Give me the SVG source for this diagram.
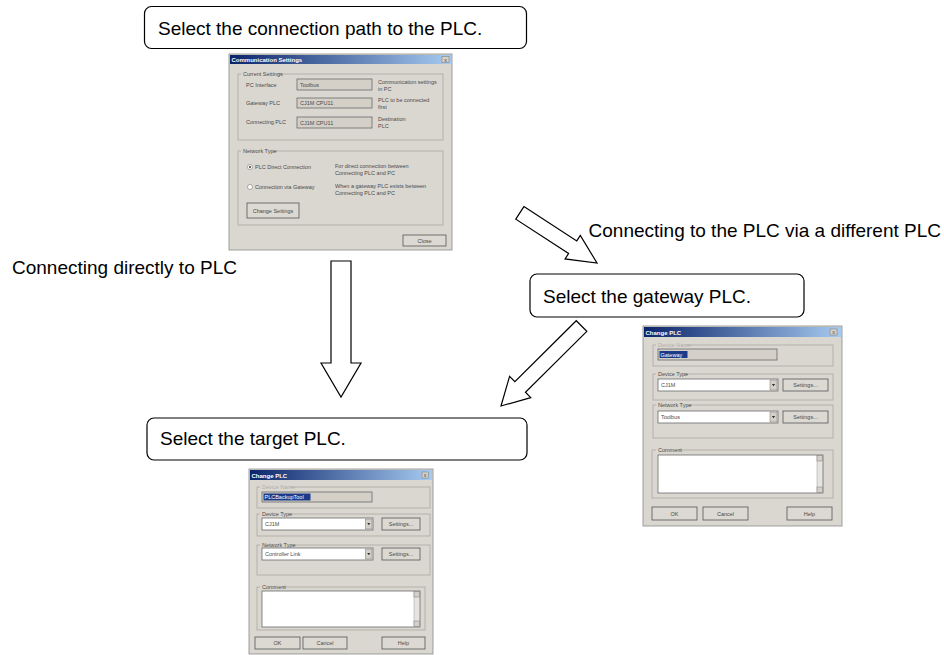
<svg xmlns="http://www.w3.org/2000/svg" width="944" height="655" viewBox="0 0 944 655">
<defs>
<linearGradient id="tb" x1="0" x2="1" y1="0" y2="0">
<stop offset="0" stop-color="#0a246a"/>
<stop offset="1" stop-color="#a6caf0"/>
</linearGradient>
</defs>
<style>
.box{fill:#fff;stroke:#000;stroke-width:1.2}
.lbl{font-family:"Liberation Sans",Arial,sans-serif;font-size:19px;fill:#000}
.arrow{fill:#fff;stroke:#000;stroke-width:1.2;stroke-linejoin:miter}
.dlg{fill:#dad7d1;stroke:#8a8a8a;stroke-width:0.8}
.tt{font-family:"Liberation Sans",Arial,sans-serif;font-size:6px;font-weight:bold;fill:#fff}
.t{font-family:"Liberation Sans",Arial,sans-serif;font-size:5.5px;fill:#4a4a4a}
.tc{font-family:"Liberation Sans",Arial,sans-serif;font-size:5.5px;fill:#4a4a4a;text-anchor:middle}
.tg{font-family:"Liberation Sans",Arial,sans-serif;font-size:5.5px;fill:#b0aea8}
.tw{font-family:"Liberation Sans",Arial,sans-serif;font-size:5.5px;fill:#fff}
.grp{fill:none;stroke:#aaa7a0;stroke-width:0.8}
.lbg{fill:#dad7d1}
.fld{fill:#d4d0c8;stroke:#6a6a6a;stroke-width:0.8}
.wf{fill:#fff;stroke:#6a6a6a;stroke-width:0.8}
.btn{fill:#dcd9d3;stroke:#555;stroke-width:0.8}
.sb{fill:#e6e4e0;stroke:#9a9a9a;stroke-width:0.5}
.cb{fill:#d4d0c8;stroke:#777;stroke-width:0.5}
.hl{fill:#1c3a8a}
</style>

<!-- connectors -->
<g id="connectors">
<polygon class="arrow" points="331,261 351,261 351,363 361,363 341,397 321,363 331,363"/>
<polygon class="arrow" transform="translate(597,263) rotate(33)" points="-92,-7.5 -29,-7.5 -29,-14 0,0 -29,14 -29,7.5 -92,7.5"/>
<polygon class="arrow" transform="translate(501,406) rotate(135.2)" points="-113.5,-7.5 -27,-7.5 -27,-15 0,0 -27,15 -27,7.5 -113.5,7.5"/>
</g>

<!-- labels -->
<g id="label-direct"><text class="lbl" x="12" y="274">Connecting directly to PLC</text></g>
<g id="label-gateway"><text class="lbl" x="941" y="237" text-anchor="end">Connecting to the PLC via a different PLC</text></g>

<!-- callouts -->
<g id="callout-path">
<rect class="box" x="144.5" y="6.5" width="382" height="42" rx="7"/>
<text class="lbl" x="158" y="35">Select the connection path to the PLC.</text>
</g>
<g id="callout-gateway">
<rect class="box" x="530" y="274" width="274" height="43" rx="7"/>
<text class="lbl" x="543" y="303">Select the gateway PLC.</text>
</g>
<g id="callout-target">
<rect class="box" x="147" y="418" width="380" height="42" rx="7"/>
<text class="lbl" x="160" y="445">Select the target PLC.</text>
</g>

<!-- Communication Settings dialog -->
<g id="dlg-comm">
<rect class="dlg" x="229" y="54" width="223" height="196"/>
<rect x="230" y="55" width="221" height="9" fill="url(#tb)"/>
<text class="tt" x="231.5" y="62">Communication Settings</text>
<rect class="cb" x="442" y="56.5" width="7" height="6"/>
<text class="tc" x="445.5" y="61.5">x</text>
<rect class="grp" x="238" y="74" width="205" height="66"/>
<rect class="lbg" x="241" y="71" width="36" height="6"/>
<text class="t" x="243" y="76">Current Settings</text>
<text class="t" x="246" y="87">PC Interface</text>
<rect class="fld" x="297" y="79" width="75" height="11"/>
<text class="t" x="300" y="86.5">Toolbus</text>
<text class="t" x="378" y="84">Communication settings</text>
<text class="t" x="378" y="91">in PC</text>
<text class="t" x="246" y="105">Gateway PLC</text>
<rect class="fld" x="297" y="98" width="75" height="10"/>
<text class="t" x="300" y="105">CJ1M CPU11</text>
<text class="t" x="378" y="102">PLC to be connected</text>
<text class="t" x="378" y="109">first</text>
<text class="t" x="246" y="124">Connecting PLC</text>
<rect class="fld" x="297" y="117" width="75" height="11"/>
<text class="t" x="300" y="124.5">CJ1M CPU11</text>
<text class="t" x="378" y="121">Destination</text>
<text class="t" x="378" y="128">PLC</text>
<rect class="grp" x="238" y="151" width="205" height="74"/>
<rect class="lbg" x="241" y="148" width="31" height="6"/>
<text class="t" x="243" y="153">Network Type</text>
<circle cx="250" cy="167" r="2.5" fill="#fff" stroke="#777" stroke-width="0.6"/>
<circle cx="250" cy="167" r="1" fill="#333"/>
<text class="t" x="255" y="169">PLC Direct Connection</text>
<text class="t" x="335" y="168">For direct connection between</text>
<text class="t" x="335" y="175">Connecting PLC and PC</text>
<circle cx="250" cy="187" r="2.5" fill="#fff" stroke="#777" stroke-width="0.6"/>
<text class="t" x="255" y="189">Connection via Gateway</text>
<text class="t" x="335" y="188">When a gateway PLC exists between</text>
<text class="t" x="335" y="195">Connecting PLC and PC</text>
<rect class="btn" x="247" y="203" width="52" height="15"/>
<text class="tc" x="273" y="212.5">Change Settings</text>
<rect class="btn" x="403" y="235" width="43" height="11"/>
<text class="tc" x="424.5" y="242.5">Close</text>
</g>

<!-- Gateway Change PLC dialog -->
<g id="dlg-gateway">
<rect class="dlg" x="643" y="326" width="199" height="200"/>
<rect x="644" y="327" width="197" height="10" fill="url(#tb)"/>
<text class="tt" x="645.5" y="334.5">Change PLC</text>
<rect class="cb" x="830" y="329" width="7" height="6"/>
<text class="tc" x="833.5" y="334">x</text>
<rect class="grp" x="653" y="345" width="180" height="21"/>
<rect class="lbg" x="656" y="342" width="30" height="6"/>
<text class="tg" x="658" y="347">Device Name</text>
<rect class="fld" x="658" y="349" width="119" height="11"/>
<rect class="hl" x="659.5" y="351" width="28" height="7"/>
<text class="tw" x="660.5" y="356.5">Gateway</text>
<rect class="grp" x="653" y="374" width="180" height="26"/>
<rect class="lbg" x="656" y="371" width="28" height="6"/>
<text class="t" x="658" y="376">Device Type</text>
<rect class="wf" x="658" y="379" width="120" height="12"/>
<text class="t" x="661" y="387">CJ1M</text>
<rect class="cb" x="770" y="380" width="7" height="10"/>
<polygon points="771.8,384 775.2,384 773.5,386.2" fill="#333"/>
<rect class="btn" x="783" y="379" width="45" height="12"/>
<text class="tc" x="805.5" y="387">Settings...</text>
<rect class="grp" x="653" y="405" width="180" height="33"/>
<rect class="lbg" x="656" y="402" width="31" height="6"/>
<text class="t" x="658" y="407">Network Type</text>
<rect class="wf" x="658" y="411" width="120" height="12"/>
<text class="t" x="661" y="419">Toolbus</text>
<rect class="cb" x="770" y="412" width="7" height="10"/>
<polygon points="771.8,416 775.2,416 773.5,418.2" fill="#333"/>
<rect class="btn" x="783" y="411" width="45" height="12"/>
<text class="tc" x="805.5" y="419">Settings...</text>
<rect class="grp" x="652" y="450" width="181" height="48"/>
<rect class="lbg" x="656" y="447" width="22" height="6"/>
<text class="t" x="658" y="452">Comment</text>
<rect class="wf" x="658" y="455" width="165" height="38"/>
<rect class="sb" x="817" y="455.5" width="5.5" height="37"/>
<rect class="cb" x="817" y="455.5" width="5.5" height="5.5"/>
<rect class="cb" x="817" y="487" width="5.5" height="5.5"/>
<rect class="btn" x="652" y="507" width="45" height="13"/>
<text class="tc" x="674.5" y="515.5">OK</text>
<rect class="btn" x="703" y="507" width="45" height="13"/>
<text class="tc" x="725.5" y="515.5">Cancel</text>
<rect class="btn" x="787" y="507" width="45" height="13"/>
<text class="tc" x="809.5" y="515.5">Help</text>
</g>

<!-- Target Change PLC dialog -->
<g id="dlg-target">
<rect class="dlg" x="249" y="469" width="184" height="185"/>
<rect x="250" y="470" width="182" height="10" fill="url(#tb)"/>
<text class="tt" x="251.5" y="477.5">Change PLC</text>
<rect class="cb" x="422" y="472" width="6.5" height="6"/>
<text class="tc" x="425.2" y="477">x</text>
<rect class="grp" x="257" y="487" width="173" height="21"/>
<rect class="lbg" x="260" y="484" width="30" height="6"/>
<text class="tg" x="262" y="489">Device Name</text>
<rect class="fld" x="262" y="492" width="110" height="10"/>
<rect class="hl" x="263.5" y="493.5" width="47" height="7"/>
<text class="tw" x="264.5" y="499">PLCBackupTool</text>
<rect class="grp" x="257" y="514" width="173" height="22"/>
<rect class="lbg" x="260" y="511" width="28" height="6"/>
<text class="t" x="262" y="516">Device Type</text>
<rect class="wf" x="262" y="518" width="111" height="12"/>
<text class="t" x="265" y="526">CJ1M</text>
<rect class="cb" x="365.5" y="519" width="6.5" height="10"/>
<polygon points="367.2,523 370.4,523 368.8,525.2" fill="#333"/>
<rect class="btn" x="382" y="518" width="38" height="12"/>
<text class="tc" x="401" y="526">Settings...</text>
<rect class="grp" x="257" y="545" width="173" height="30"/>
<rect class="lbg" x="260" y="542" width="31" height="6"/>
<text class="t" x="262" y="547">Network Type</text>
<rect class="wf" x="262" y="548" width="111" height="12"/>
<text class="t" x="265" y="556">Controller Link</text>
<rect class="cb" x="365.5" y="549" width="6.5" height="10"/>
<polygon points="367.2,553 370.4,553 368.8,555.2" fill="#333"/>
<rect class="btn" x="382" y="548" width="38" height="12"/>
<text class="tc" x="401" y="556">Settings...</text>
<rect class="grp" x="257" y="587" width="168" height="43"/>
<rect class="lbg" x="260" y="584" width="22" height="6"/>
<text class="t" x="262" y="589">Comment</text>
<rect class="wf" x="262" y="591" width="158" height="36"/>
<rect class="sb" x="414" y="591.5" width="5.5" height="35"/>
<rect class="cb" x="414" y="591.5" width="5.5" height="5.5"/>
<rect class="cb" x="414" y="621" width="5.5" height="5.5"/>
<rect class="btn" x="255" y="637" width="45" height="12"/>
<text class="tc" x="277.5" y="645">OK</text>
<rect class="btn" x="303" y="637" width="44" height="12"/>
<text class="tc" x="325" y="645">Cancel</text>
<rect class="btn" x="382" y="637" width="43" height="12"/>
<text class="tc" x="403.5" y="645">Help</text>
</g>
</svg>
